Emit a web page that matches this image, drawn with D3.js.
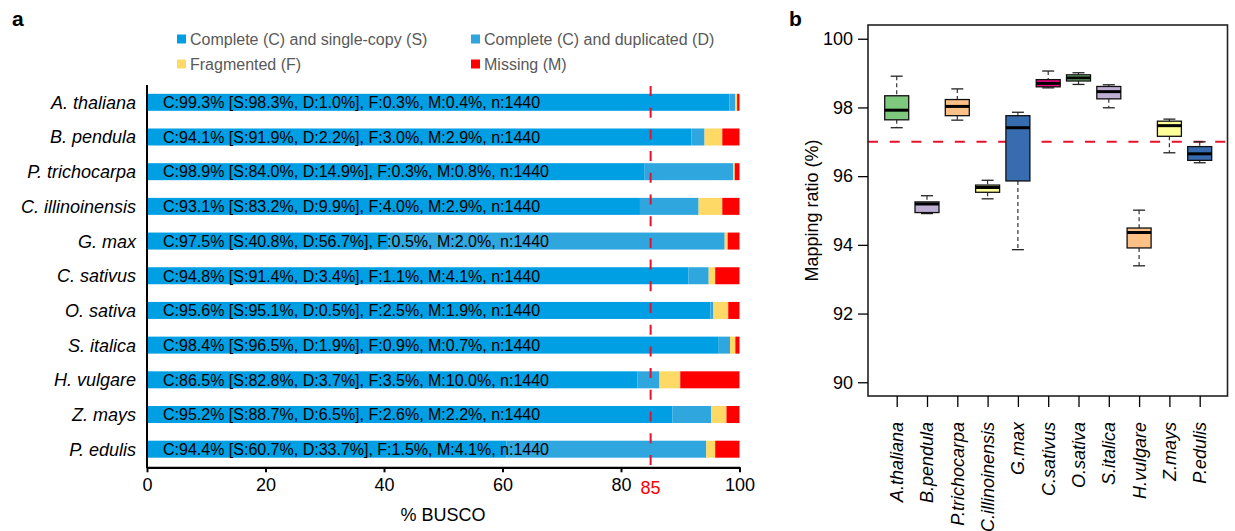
<!DOCTYPE html>
<html>
<head>
<meta charset="utf-8">
<script src="https://cdn.jsdelivr.net/npm/d3@7"></script>
<style>
  html, body { margin: 0; padding: 0; background: #fff; }
  svg { display: block; font-family: "Liberation Sans", Arial, Helvetica, sans-serif; }
</style>
</head>
<body>
<svg id="chart" width="1235" height="531"></svg>
<script>
// ---------- Panel a data (BUSCO) ----------
const buscoSpecies = ["A. thaliana","B. pendula","P. trichocarpa","C. illinoinensis","G. max","C. sativus","O. sativa","S. italica","H. vulgare","Z. mays","P. edulis"];
const singleCopy = [98.3, 91.9, 84.0, 83.2, 40.8, 91.4, 95.1, 96.5, 82.8, 88.7, 60.7];
const duplicated = [1.0, 2.2, 14.9, 9.9, 56.7, 3.4, 0.5, 1.9, 3.7, 6.5, 33.7];
const fragmented = [0.3, 3.0, 0.3, 4.0, 0.5, 1.1, 2.5, 0.9, 3.5, 2.6, 1.5];
const missing    = [0.4, 2.9, 0.8, 2.9, 2.0, 4.1, 1.9, 0.7, 10.0, 2.2, 4.1];
const buscoTicks = [0, 20, 40, 60, 80, 100];
const buscoThreshold = 85;
const legendLabels = ["Complete (C) and single-copy (S)", "Complete (C) and duplicated (D)", "Fragmented (F)", "Missing (M)"];

// ---------- Panel b data (mapping ratio boxplots) ----------
const mapSpecies = ["A.thaliana","B.pendula","P.trichocarpa","C.illinoinensis","G.max","C.sativus","O.sativa","S.italica","H.vulgare","Z.mays","P.edulis"];
const mapMin    = [97.41, 94.91, 97.63, 95.34, 93.86, 98.57, 98.67, 97.99, 93.39, 96.68, 96.39];
const mapQ1     = [97.64, 94.94, 97.76, 95.53, 95.86, 98.60, 98.77, 98.25, 93.91, 97.16, 96.46];
const mapMedian = [97.92, 95.19, 98.03, 95.67, 97.41, 98.70, 98.86, 98.46, 94.36, 97.47, 96.65];
const mapQ3     = [98.34, 95.25, 98.23, 95.74, 97.76, 98.81, 98.95, 98.61, 94.49, 97.60, 96.86];
const mapMax    = [98.91, 95.43, 98.54, 95.88, 97.86, 99.06, 99.01, 98.66, 95.01, 97.66, 97.00];
const mapTicks = [90, 92, 94, 96, 98, 100];
const mapThreshold = 97;

// ---------- styles ----------
const segColors = ["#009fe3", "#2fa6de", "#ffd966", "#ff0000"];
const boxColors = ["#7fc97f","#beaed4","#fdc086","#ffff99","#386cb0","#f0027f"];
const dashRed = "#e8102a";

const svg = d3.select("#chart");

// ================= PANEL A =================
const xA = d3.scaleLinear().domain([0, 100]).range([147, 739.5]);
const yA = d3.scalePoint().domain(buscoSpecies).range([102.3, 449.2]);
const barH = 17;

svg.append("text").attr("x", 12).attr("y", 26)
  .attr("font-size", 21).attr("font-weight", "bold").text("a");

// legend
const legPos = [[177, 39], [471, 39], [177, 64], [471, 64]];
legendLabels.forEach((lab, i) => {
  const g = svg.append("g").attr("transform", `translate(${legPos[i][0]},${legPos[i][1]})`);
  g.append("rect").attr("x", 0).attr("y", -4.5).attr("width", 9).attr("height", 9).attr("fill", segColors[i]);
  g.append("text").attr("x", 13).attr("y", 0).attr("dy", "0.36em")
    .attr("font-size", 16).attr("fill", "#595959").text(lab);
});

// stacked bars
const rows = buscoSpecies.map((s, i) => ({
  name: s, vals: [singleCopy[i], duplicated[i], fragmented[i], missing[i]]
}));
const barG = svg.append("g");
rows.forEach(r => {
  let cum = 0;
  r.vals.forEach((v, k) => {
    barG.append("rect")
      .attr("x", xA(cum)).attr("y", yA(r.name) - barH / 2)
      .attr("width", xA(cum + v) - xA(cum)).attr("height", barH)
      .attr("fill", segColors[k]);
    cum += v;
  });
  const C = (r.vals[0] + r.vals[1]).toFixed(1);
  const txt = `C:${C}% [S:${r.vals[0].toFixed(1)}%, D:${r.vals[1].toFixed(1)}%], F:${r.vals[2].toFixed(1)}%, M:${r.vals[3].toFixed(1)}%, n:1440`;
  barG.append("text").attr("x", xA(0) + 16).attr("y", yA(r.name)).attr("dy", "0.36em")
    .attr("font-size", 16).attr("fill", "#000").text(txt);
  svg.append("text").attr("x", 136).attr("y", yA(r.name)).attr("dy", "0.36em")
    .attr("text-anchor", "end").attr("font-size", 18).attr("font-style", "italic").text(r.name);
});

// threshold line
svg.append("line")
  .attr("x1", xA(buscoThreshold)).attr("x2", xA(buscoThreshold))
  .attr("y1", 86).attr("y2", 468)
  .attr("stroke", dashRed).attr("stroke-width", 2).attr("stroke-dasharray", "10,11.7");

// y axis line
svg.append("line").attr("x1", 147).attr("x2", 147).attr("y1", 85).attr("y2", 468)
  .attr("stroke", "#000").attr("stroke-width", 2);

// x axis
const xAxisA = svg.append("g").attr("transform", "translate(0,467.3)")
  .call(d3.axisBottom(xA).tickValues(buscoTicks).tickSize(5).tickSizeOuter(0).tickPadding(6));
xAxisA.select(".domain").attr("stroke-width", 2.2);
xAxisA.selectAll(".tick line").attr("stroke-width", 2);
xAxisA.selectAll(".tick text").attr("font-size", 18).attr("font-family", "Liberation Sans, Arial, sans-serif").attr("fill", "#000");
svg.append("text").attr("x", xA(buscoThreshold)).attr("y", 488).attr("dy", "0.36em")
  .attr("text-anchor", "middle").attr("font-size", 18).attr("fill", "#ff0000").text(buscoThreshold);
svg.append("text").attr("x", 443).attr("y", 515).attr("dy", "0.36em")
  .attr("text-anchor", "middle").attr("font-size", 18).text("% BUSCO");

// ================= PANEL B =================
const bLeft = 868, bRight = 1227.5, bTop = 25, bBottom = 396;
const yB = d3.scaleLinear().domain([89.6, 100.4]).range([bBottom, bTop]);
const xB = d3.scalePoint().domain(mapSpecies).range([896.7, 1199.7]);
const boxW = 24;

svg.append("text").attr("x", 789).attr("y", 26)
  .attr("font-size", 21).attr("font-weight", "bold").text("b");

// threshold
svg.append("line").attr("x1", bLeft).attr("x2", bRight)
  .attr("y1", yB(mapThreshold)).attr("y2", yB(mapThreshold))
  .attr("stroke", dashRed).attr("stroke-width", 2).attr("stroke-dasharray", "10,11.7");

// boxes
mapSpecies.forEach((s, i) => {
  const cx = xB(s);
  const g = svg.append("g");
  g.append("line").attr("x1", cx).attr("x2", cx).attr("y1", yB(mapMax[i])).attr("y2", yB(mapQ3[i]))
    .attr("stroke", "#333").attr("stroke-width", 1.2).attr("stroke-dasharray", "4,3");
  g.append("line").attr("x1", cx).attr("x2", cx).attr("y1", yB(mapQ1[i])).attr("y2", yB(mapMin[i]))
    .attr("stroke", "#333").attr("stroke-width", 1.2).attr("stroke-dasharray", "4,3");
  [mapMax[i], mapMin[i]].forEach(v => {
    g.append("line").attr("x1", cx - boxW / 4).attr("x2", cx + boxW / 4)
      .attr("y1", yB(v)).attr("y2", yB(v)).attr("stroke", "#222").attr("stroke-width", 1.3);
  });
  g.append("rect").attr("x", cx - boxW / 2).attr("y", yB(mapQ3[i]))
    .attr("width", boxW).attr("height", yB(mapQ1[i]) - yB(mapQ3[i]))
    .attr("fill", boxColors[i % boxColors.length]).attr("stroke", "#111").attr("stroke-width", 1.3);
  g.append("line").attr("x1", cx - boxW / 2).attr("x2", cx + boxW / 2)
    .attr("y1", yB(mapMedian[i])).attr("y2", yB(mapMedian[i]))
    .attr("stroke", "#000").attr("stroke-width", 3);
});

// frame
svg.append("rect").attr("x", bLeft).attr("y", bTop).attr("width", bRight - bLeft).attr("height", bBottom - bTop)
  .attr("fill", "none").attr("stroke", "#222").attr("stroke-width", 1.6);

// y axis
const yAxisB = svg.append("g").attr("transform", `translate(${bLeft},0)`)
  .call(d3.axisLeft(yB).tickValues(mapTicks).tickSize(10).tickSizeOuter(0).tickPadding(5));
yAxisB.select(".domain").remove();
yAxisB.selectAll(".tick line").attr("stroke-width", 1.3);
yAxisB.selectAll(".tick text").attr("font-size", 18).attr("font-family", "Liberation Sans, Arial, sans-serif").attr("fill", "#000");

// x axis
const xAxisB = svg.append("g").attr("transform", `translate(0,${bBottom})`)
  .call(d3.axisBottom(xB).tickSize(11).tickSizeOuter(0).tickFormat(""));
xAxisB.select(".domain").remove();
xAxisB.selectAll(".tick line").attr("stroke-width", 1.3);
mapSpecies.forEach(s => {
  svg.append("text")
    .attr("transform", `translate(${xB(s)},422) rotate(-90)`)
    .attr("text-anchor", "end").attr("dy", "0.36em")
    .attr("font-size", 18).attr("font-style", "italic").text(s);
});

svg.append("text")
  .attr("transform", `translate(812,${(bTop + bBottom) / 2}) rotate(-90)`)
  .attr("text-anchor", "middle").attr("dy", "0.36em")
  .attr("font-size", 18).text("Mapping ratio (%)");
</script>
</body>
</html>
